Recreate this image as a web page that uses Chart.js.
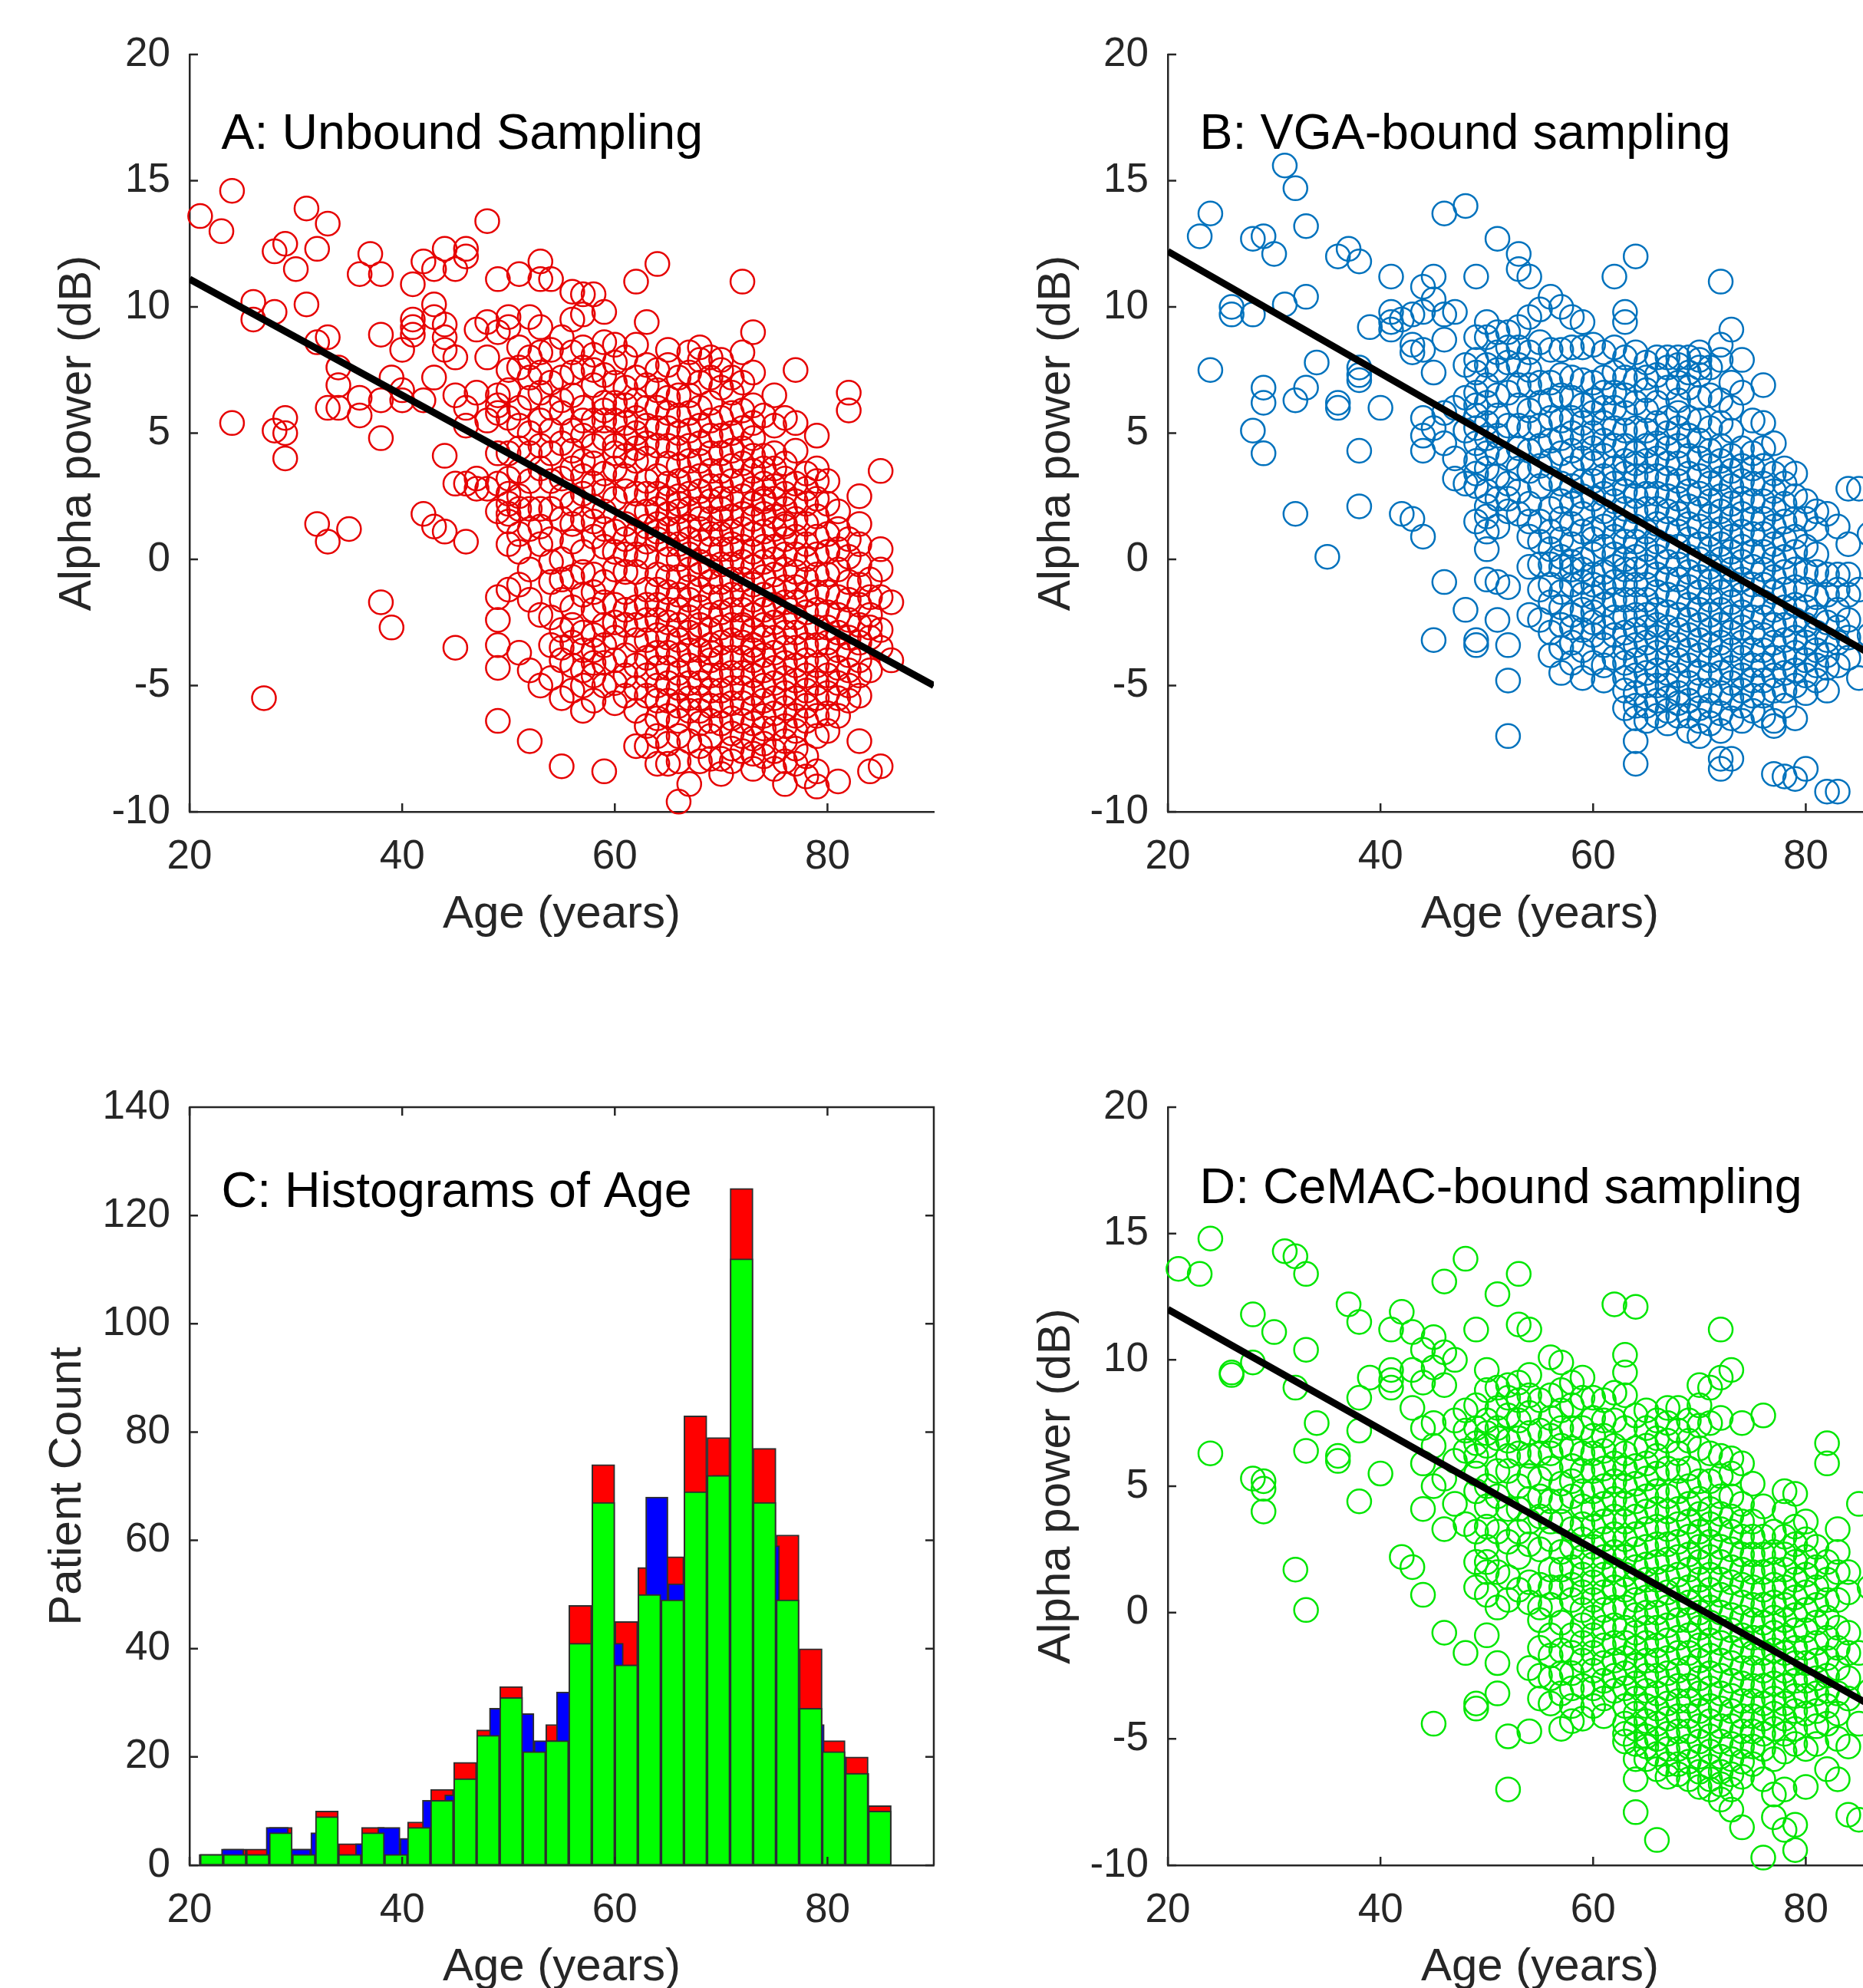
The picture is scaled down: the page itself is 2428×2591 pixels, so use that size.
<!DOCTYPE html>
<html>
<head>
<meta charset="utf-8">
<title>Alpha power vs age</title>
<script src="https://cdn.jsdelivr.net/npm/chart.js@4.4.1/dist/chart.umd.min.js"></script>
<style>
html, body { margin: 0; padding: 0; background: #fff; overflow: hidden; width: 2428px; height: 2591px; }
canvas { position: absolute; }
</style>
</head>
<body>
<canvas id="panelA" width="1250" height="1300" style="left:0px;top:0px"></canvas>
<canvas id="panelB" width="1300" height="1300" style="left:1250px;top:0px"></canvas>
<canvas id="panelC" width="1250" height="1300" style="left:0px;top:1372px"></canvas>
<canvas id="panelD" width="1300" height="1300" style="left:1250px;top:1372px"></canvas>
<script>
// tick labels
const ageTicks = [20, 40, 60, 80];
const alphaTicks = [-10, -5, 0, 5, 10, 15, 20];
const countTicks = [0, 20, 40, 60, 80, 100, 120, 140];

// scatter data: each row is [age, alpha power values at that age...]
const unboundRows = [
  [21, 13.6], [23, 13.0], [24, 14.6, 5.4], [26, 10.2, 9.5], [27, -5.5],
  [28, 12.2, 9.8, 5.1], [29, 12.5, 5.6, 5.0, 4.0], [30, 11.5], [31, 13.9, 10.1],
  [32, 12.3, 8.6, 1.4], [33, 13.3, 8.8, 6.0, 0.7], [34, 7.6, 6.9, 6.0], [35, 1.2],
  [36, 11.3, 6.4, 5.7], [37, 12.1], [38, 11.3, 8.9, 6.3, 4.8, -1.7], [39, 7.2, -2.7],
  [40, 8.3, 6.7, 6.3], [41, 10.9, 9.5, 8.9, 9.2], [42, 11.8, 1.8, 6.3],
  [43, 11.5, 10.1, 9.6, 1.3, 7.2], [44, 12.3, 9.3, 8.3, 4.1, 1.1, 8.8],
  [45, 11.5, 8.0, 3.0, -3.5, 6.5], [46, 12.3, 12.0, 3.0, 0.7, 6.0, 5.3],
  [47, 9.1, 6.6, 3.2, 2.8], [48, 13.4, 9.4, 8.0, 2.8, 5.5],
  [49, 11.1, 9.0, 6.5, 6.1, 5.8, 3.0, -1.5, -3.4, -4.3, -6.4],
  [50, 9.6, 9.2, 6.7, 5.6, 4.2, 2.2, 1.8, -1.2, 1.5, 2.6],
  [51, 11.3, 7.6, 6.0, 5.3, 3.5, 2.5, 2.0, -1.0, -3.7, 0.3],
  [52, 8.0, 7.2, 6.4, 5.0, 3.1, -0.4, -4.4, -7.2, 1.2],
  [53, 11.8, 11.1, 8.2, 7.4, 5.5, 3.6, 2.0, -5.0, 0.6],
  [54, 11.1, 7.0, 6.0, 4.2, 2.0, 0.8, -0.9, -2.3, -4.7],
  [55, 8.8, 7.2, 5.8, 4.6, 2.5, 0.0, -1.6, -2.8, -4.0, -8.2, 1.6],
  [56, 10.6, 8.2, 6.5, 5.1, 4.3, 3.6, 2.2, 0.7, -0.7, -1.9, -3.3, -5.2],
  [57, 10.5, 9.7, 7.6, 6.0, 4.9, 3.9, 2.6, 1.6, 0.3, -1.4, -2.9, -4.4, -5.0],
  [58, 10.5, 8.1, 6.9, 5.5, 4.5, 3.0, 2.1, 0.9, -0.6, -2.0, -3.6, -4.6, -3.0],
  [59, 8.6, 7.3, 6.2, 4.8, 3.4, 1.9, 0.5, -0.9, -2.6, -4.1, -8.4, 5.9],
  [60, 8.5, 7.0, 5.5, 3.6, 2.4, 1.1, -0.4, -1.8, -3.1, -4.9, 4.5],
  [61, 6.8, 5.4, 4.1, 2.7, 1.4, 0.2, -1.3, -2.6, -3.8, -4.6, 6.1],
  [62, 11.0, 7.2, 6.3, 5.0, 3.9, 2.6, 1.0, -0.5, -1.9, -3.2, -5.1, -7.4],
  [63, 9.4, 6.9, 5.3, 4.0, 2.6, 1.3, 0.1, -1.2, -2.4, -3.9, -5.4, -6.6, 3.1],
  [64, 11.7, 7.5, 6.0, 4.5, 3.3, 2.0, 0.8, -0.6, -1.8, -3.0, -4.3, -5.6, -7.0, -8.1, 1.4],
  [65, 7.7, 6.4, 5.2, 3.8, 2.4, 1.2, 0.0, -1.3, -2.5, -3.7, -4.9, -6.2, -7.3, -2.0],
  [66, 7.2, 5.7, 4.4, 3.1, 1.9, 0.6, -0.7, -2.0, -3.2, -4.5, -5.8, -7.0, -9.6, 2.5],
  [67, 8.2, 6.5, 5.1, 3.9, 2.6, 1.3, 0.2, -1.1, -2.3, -3.6, -4.9, -6.0, -8.9, -1.6],
  [68, 8.4, 7.9, 6.0, 4.6, 3.3, 2.0, 0.7, -0.6, -1.9, -3.0, -4.3, -5.5, -6.5, -8.0, 1.2, -2.6],
  [69, 8.0, 6.2, 4.9, 3.5, 2.3, 1.0, -0.3, -1.5, -2.8, -4.0, -5.2, -6.4, -7.9, -3.4],
  [70, 7.9, 7.5, 5.6, 4.2, 2.9, 1.6, 0.4, -0.9, -2.1, -3.3, -4.6, -5.8, -7.9, 2.0, -1.5],
  [71, 6.6, 5.0, 3.7, 2.4, 1.1, -0.2, -1.4, -2.6, -3.9, -5.1, -6.3, -7.5, 0.6],
  [72, 11.0, 8.2, 5.9, 4.4, 3.1, 1.8, 0.5, -0.8, -2.0, -3.3, -4.5, -5.7, -7.0, -2.7],
  [73, 9.0, 6.1, 4.8, 3.5, 2.2, 1.0, -0.3, -1.6, -2.8, -4.0, -5.3, -6.5, -7.7, -3.6],
  [74, 4.1, 3.0, 1.8, 0.5, -0.7, -2.0, -3.1, -4.4, -5.6, -6.7, -7.3, 2.4],
  [75, 6.5, 3.6, 2.4, 1.2, 0.0, -1.2, -2.5, -3.7, -4.9, -6.1, -7.6, -1.9],
  [76, 3.2, 2.0, 0.8, -0.4, -1.7, -2.9, -4.1, -5.3, -6.6, -8.9, 1.4],
  [77, 7.5, 5.4, 3.0, 1.6, 0.2, -1.1, -2.3, -3.5, -4.8, -6.2, -7.5],
  [78, 3.4, 2.2, 0.6, -0.8, -2.1, -3.4, -4.6, -5.8, -8.6],
  [79, 4.9, 3.1, 1.7, 0.2, -1.3, -2.7, -4.2, -5.5, -7.0, -9.0],
  [80, 3.1, 1.0, -0.6, -2.1, -3.3, -4.6, -6.8],
  [81, 1.9, 0.4, -1.5, -2.9, -4.3, -5.5, -8.8],
  [82, 6.6, 5.9, 0.8, -0.9, -2.4, -3.8, -5.0],
  [83, 2.5, 0.6, -1.0, -2.6, -4.0, -7.2],
  [84, -0.8, -2.2, -3.1, -8.4],
  [85, 3.5, -0.4, -1.5, -2.8, -8.2],
  [86, -1.7, -4.0],
  // overlapping circles in the dense cloud
  [49, 4.2, 1.9, -2.4], [50, 7.5, 3.2, 0.6], [51, 8.4, 4.4, 1.0], [52, 9.6, 4.2, 2.0, -1.6],
  [53, 9.2, 6.6, 4.5, 1.3, -2.2], [54, 8.3, 5.1, 3.1, -0.1, -3.4],
  [55, 6.3, 3.2, -0.8, -3.5, -5.5], [56, 7.4, 1.4, -2.6, -4.2, 9.5],
  [57, 8.4, 5.5, 3.3, -0.5, -3.6, -6.0], [58, 7.5, 3.8, 1.5, -1.3, -4.1, -5.6],
  [59, 9.8, 5.5, 2.7, 1.2, -1.7, -3.4, -5.0], [60, 7.8, 6.2, 4.2, 0.3, -2.5, -4.0, -5.7],
  [61, 8.0, 4.8, 3.3, 0.8, -0.5, -2.0, -5.4], [62, 8.5, 5.6, 4.4, 1.8, 0.2, -2.6, -4.2, -6.0],
  [63, 7.7, 6.0, 4.6, 1.9, 0.7, -1.8, -3.2, -4.6, -7.4],
  [64, 6.7, 5.2, 2.6, 1.1, -1.2, -2.4, -3.7, -5.0, -6.3],
  [65, 8.3, 5.8, 4.5, 3.0, 1.8, 0.6, -0.7, -3.1, -4.3, -5.6, -8.1],
  [66, 6.5, 5.0, 3.7, 2.2, 1.2, 0.0, -1.4, -2.6, -3.8, -5.1, -6.4, -8.0],
  [67, 7.4, 5.8, 4.5, 3.2, 2.0, 0.8, -0.4, -2.9, -4.2, -5.5, -7.2],
  [68, 7.0, 5.3, 3.9, 2.7, 1.6, -0.1, -1.2, -3.6, -4.9, -6.0, -7.4],
  [69, 7.2, 5.5, 4.2, 2.9, 1.6, 0.4, -0.9, -2.2, -3.7, -4.6, -5.8, -7.0],
  [70, 6.8, 4.9, 3.5, 2.4, 1.0, -0.2, -1.5, -2.7, -3.9, -5.2, -6.5, -8.5],
  [71, 7.2, 5.8, 4.3, 3.1, 1.7, 0.4, -0.8, -2.0, -3.2, -4.5, -5.7, -6.9, -8.0],
  [72, 7.0, 5.2, 3.8, 2.5, 1.2, -0.1, -1.4, -2.6, -3.9, -5.1, -6.4, -7.6],
  [73, 7.4, 5.4, 4.1, 2.8, 1.6, 0.3, -1.0, -2.2, -3.4, -4.6, -5.9, -7.1, -8.3],
  [74, 5.7, 3.6, 2.3, 1.1, -0.1, -1.4, -2.6, -3.8, -5.0, -6.2, -7.8],
  [75, 5.3, 4.2, 2.9, 1.7, 0.5, -0.6, -1.8, -3.1, -4.3, -5.5, -6.7, -8.3],
  [76, 5.6, 3.8, 2.6, 1.3, 0.2, -1.1, -2.3, -3.5, -4.7, -5.9, -7.2, -8.0],
  [77, 4.3, 2.3, 0.9, -0.5, -1.7, -2.9, -4.2, -5.5, -6.8, -8.1],
  [78, 2.8, 1.4, 0.0, -1.4, -2.7, -4.0, -5.2, -6.4, -7.8],
  [79, 3.6, 2.4, 0.9, -0.6, -2.0, -3.4, -4.9, -6.2, -8.4],
  [80, 2.2, 0.3, -1.3, -2.7, -4.0, -5.3, -6.1], [81, 1.2, -0.4, -2.2, -3.6, -4.9, -6.2],
  [82, 0.1, -1.6, -3.1, -4.4, -5.6], [83, 1.4, -0.2, -1.8, -3.3, -4.6, -5.4],
  [84, -1.5, -2.7, -4.4], [85, 0.4, -3.5]
];

const vgaRows = [
  [23, 12.8], [24, 13.7, 7.5], [26, 10.0, 9.7], [28, 12.7, 9.7, 5.1],
  [29, 12.8, 6.8, 6.2, 4.2], [30, 12.1], [31, 15.6, 10.1], [32, 14.7, 6.3, 1.8],
  [33, 13.2, 10.4, 6.8], [34, 7.8], [35, 0.1], [36, 12.0, 6.2, 6.0], [37, 12.3],
  [38, 11.8, 7.6, 7.1, 7.3, 4.3, 2.1], [39, 9.2], [40, 6.0], [41, 11.2, 9.8, 9.4, 9.1],
  [42, 1.8, 9.5], [43, 9.7, 8.5, 8.2, 1.6], [44, 10.8, 9.8, 8.3, 5.6, 4.9, 4.3, 0.9],
  [45, 11.2, 10.3, 7.4, 5.2, -3.2], [46, 13.7, 9.7, 8.7, 5.8, 4.6, -0.9],
  [47, 9.8, 6.0, 4.0, 3.2], [48, 14.0, 7.7, 6.4, 5.1, 3.0, -2.0],
  [49, 11.2, 8.8, 7.4, 6.6, 6.1, 5.7, 4.6, 3.9, 2.9, -3.4, -3.2],
  [50, 9.4, 8.8, 7.7, 6.9, 5.4, 4.2, 3.6, 2.1, 1.7, 1.1, -0.8],
  [51, 12.7, 9.0, 7.5, 6.5, 4.9, 3.3, 2.4, -0.9, -2.4],
  [52, 9.0, 7.8, 6.6, 4.0, 3.0, 1.9, -3.4, -4.8, -7.0],
  [53, 12.1, 11.5, 9.2, 7.7, 6.1, 5.3, 2.7, 1.8],
  [54, 11.2, 9.6, 8.2, 6.9, 5.9, 4.3, 2.2, 0.9, -0.3, -2.2],
  [55, 9.9, 8.6, 7.0, 5.3, 3.7, 2.9, 1.5, -0.2, -2.4],
  [56, 10.4, 8.3, 7.0, 5.6, 4.7, 3.2, 2.0, 1.1, -0.2, -1.7, -2.9, -3.8],
  [57, 10.0, 8.3, 6.5, 5.5, 4.2, 3.0, 1.6, 0.8, -0.3, -1.3, -2.6, -4.5],
  [58, 9.6, 7.2, 6.4, 5.0, 3.6, 2.2, 0.6, -0.1, -0.4, -1.0, -3.3, -4.1],
  [59, 9.4, 8.4, 6.1, 4.8, 4.0, 3.1, 1.8, 0.0, -0.9, -2.0, -3.6],
  [60, 8.5, 7.0, 5.8, 4.4, 3.1, 1.2, 0.2, -1.5, -2.1, -3.0],
  [61, 8.2, 6.6, 5.4, 4.1, 2.6, 1.3, -0.5, -1.8, -2.7, -4.8],
  [62, 11.2, 7.4, 6.6, 5.2, 3.6, 2.3, 0.9, -0.3, -1.6, -3.0],
  [63, 9.8, 9.4, 7.2, 5.8, 4.5, 3.4, 2.0, 0.7, -0.4, -1.6, -2.9, -4.1, -5.2],
  [64, 12.0, 8.2, 6.2, 4.2, 3.8, 2.5, 1.3, 0.1, -1.0, -2.2, -3.4, -4.6, -5.3, -6.3, -8.1],
  [65, 7.8, 6.7, 5.1, 3.9, 2.6, 1.1, -0.3, -1.6, -2.7, -3.9, -5.0, -5.8],
  [66, 8.0, 6.2, 4.6, 3.3, 2.0, 0.7, -0.6, -2.0, -3.1, -4.4, -5.6],
  [67, 7.6, 5.6, 4.4, 3.2, 1.9, 0.5, -0.8, -2.1, -3.3, -4.5, -5.5, -6.0],
  [68, 7.7, 6.3, 5.2, 3.8, 2.4, 1.1, -0.2, -1.5, -2.8, -4.0, -5.3, -5.7],
  [69, 8.0, 6.8, 4.9, 3.4, 2.1, 0.8, -0.5, -1.8, -3.0, -4.2, -5.6, -6.8],
  [70, 8.2, 7.9, 7.6, 7.3, 6.4, 4.7, 3.3, 2.0, 0.6, -0.7, -2.0, -3.2, -4.5, -5.9, -7.0],
  [71, 6.5, 4.3, 3.0, 1.7, 0.4, -0.9, -2.2, -3.4, -4.6, -5.8],
  [72, 11.0, 7.9, 6.3, 4.5, 3.2, 1.9, 0.6, -0.7, -2.0, -3.3, -4.5, -6.1, -8.3],
  [73, 9.1, 6.0, 4.1, 2.9, 1.6, 0.3, -1.0, -2.3, -3.6, -4.9, -7.9],
  [74, 7.9, 4.4, 3.1, 1.8, 0.5, -0.8, -2.1, -3.3, -4.6, -5.8],
  [75, 4.2, 3.0, 1.6, 0.3, -1.0, -2.3, -3.6, -4.8, -6.0],
  [76, 6.9, 5.4, 3.7, 2.3, 1.0, -0.4, -1.7, -3.0, -4.2, -5.4],
  [77, 3.4, 2.0, 0.6, -0.7, -2.0, -3.3, -4.6, -6.4, -8.5],
  [78, 3.0, 1.5, 0.1, -1.2, -2.6, -3.9, -5.2, -8.6],
  [79, 2.5, 0.9, -0.4, -1.8, -3.1, -4.4, -6.3, -8.7],
  [80, 1.6, -0.5, -1.9, -3.3, -4.6, -8.3],
  [81, 1.2, -0.5, -2.3, -3.6, -4.8],
  [82, 1.8, -0.6, -2.5, -4.3, -9.2],
  [83, -0.6, -2.0, -3.3, -9.2],
  [84, 2.8, -0.6, -2.4, -3.9],
  [85, 2.8, -4.7, -1.2],
  [86, 1.0, -3.0],
  // overlapping circles in the dense cloud
  [49, 7.9, 5.2, 3.4, 1.5], [50, 6.2, 4.8, 2.7, 0.4], [51, 8.2, 5.7, 4.2, 1.3],
  [52, 8.4, 5.3, 2.4, -1.1], [53, 8.4, 6.9, 4.4, 3.6], [54, 7.5, 5.2, 3.5, 1.5],
  [55, 6.2, 4.5, 0.7, -1.2], [56, 6.3, 3.9, 0.4, -1.0], [57, 7.3, 4.8, 2.3, 0.1, -1.9, -3.5],
  [58, 8.4, 5.6, 4.3, 2.9, 1.4, -2.2, -2.7], [59, 7.1, 5.4, 2.5, 1.1, -0.4, -1.4, -2.8, -4.7],
  [60, 6.3, 5.0, 3.8, 2.4, 0.8, -0.6, -1.0, -2.5, -4.1],
  [61, 7.2, 6.0, 4.7, 3.3, 1.9, 0.5, -1.1, -3.4, -4.2],
  [62, 8.4, 6.0, 4.5, 3.0, 1.6, 0.2, -0.9, -2.3, -3.9],
  [63, 8.0, 6.5, 5.1, 3.9, 2.7, 1.3, 0.0, -1.0, -2.3, -3.5, -4.7, -5.9],
  [64, 7.1, 5.2, 3.3, 1.9, 0.7, -0.4, -1.6, -2.8, -4.0, -5.8, -7.2],
  [65, 7.2, 5.9, 4.5, 3.3, 2.0, 0.4, -1.0, -2.2, -3.3, -4.5, -6.4],
  [66, 7.3, 5.4, 4.0, 2.6, 1.4, 0.1, -1.3, -2.6, -3.7, -5.0, -6.2],
  [67, 8.0, 6.8, 5.0, 3.8, 2.5, 1.2, -0.1, -1.4, -2.7, -3.9, -5.0, -6.5],
  [68, 8.0, 7.0, 5.8, 4.5, 3.1, 1.8, 0.5, -0.8, -2.2, -3.4, -4.6, -6.2],
  [69, 7.4, 5.6, 4.1, 2.7, 1.4, 0.1, -1.1, -2.4, -3.6, -4.9, -6.2],
  [70, 5.5, 4.0, 2.6, 1.3, 0.0, -1.3, -2.6, -3.8, -5.2, -6.4],
  [71, 7.6, 5.2, 3.7, 2.3, 1.0, -0.3, -1.6, -2.8, -4.0, -5.2, -6.5],
  [72, 8.5, 5.4, 3.9, 2.5, 1.2, 0.0, -1.3, -2.6, -3.9, -5.3, -6.8, -7.9],
  [73, 7.0, 5.1, 3.5, 2.2, 0.9, -0.4, -1.7, -2.9, -4.3, -5.5, -6.3],
  [74, 6.6, 3.7, 2.4, 1.1, -0.1, -1.4, -2.7, -3.9, -5.2, -6.4],
  [75, 5.5, 3.6, 2.3, 1.0, -0.3, -1.6, -2.9, -4.2, -5.4],
  [76, 4.4, 3.0, 1.6, 0.3, -1.0, -2.3, -3.6, -4.8, -6.2],
  [77, 4.6, 2.7, 1.3, 0.0, -1.3, -2.6, -3.9, -5.2, -6.6],
  [78, 3.6, 2.2, 0.8, -0.5, -1.9, -3.2, -4.5, -5.8],
  [79, 3.4, 1.6, 0.3, -1.1, -2.4, -3.7, -5.0], [80, 2.3, 0.5, -1.2, -2.6, -4.0, -5.3],
  [81, 1.9, 0.2, -1.5, -2.9, -4.2], [82, -1.4, -3.2, -3.8, -5.2],
  [83, 1.3, -1.2, -2.7, -4.2], [84, 0.6, -1.4, -3.1]
];

const cemacRows = [
  [21, 13.6], [23, 13.4], [24, 14.8, 6.3], [26, 9.5, 9.4], [28, 11.8, 9.9, 5.3],
  [29, 5.2, 4.9, 4.0], [30, 11.1], [31, 14.3], [32, 14.1, 8.9, 1.7],
  [33, 13.4, 10.4, 6.4, 0.1], [34, 7.5], [36, 6.2, 6.0], [37, 12.2],
  [38, 11.5, 8.5, 7.2, 4.4], [39, 9.3], [40, 5.5], [41, 11.2, 9.6, 8.9, 9.2],
  [42, 11.9, 2.2], [43, 11.1, 9.6, 8.1, 1.8], [44, 10.4, 9.1, 7.3, 5.9, 4.1, 0.7],
  [45, 10.9, 9.7, 7.5, 6.6, 5.0, -4.4], [46, 13.1, 10.3, 9.0, 5.3, 3.3, -0.8],
  [47, 10.0, 7.6, 6.0, 4.3], [48, 14.0, 8.0, 7.2, 6.4, 3.5, -1.6],
  [49, 11.2, 8.2, 7.3, 6.7, 6.2, 4.8, 2.0, -3.8, -3.6],
  [50, 9.6, 8.8, 7.6, 6.6, 5.0, 3.4, 2.6, 2.0, 1.6, -0.9],
  [51, 12.6, 8.9, 7.3, 6.9, 3.2, 0.2, -3.2, -2.0],
  [52, 9.0, 7.8, 6.8, 5.6, 4.1, 1.4, -4.9, -7.0],
  [53, 13.4, 11.4, 9.1, 7.6, 6.3, 5.0, 3.2, 0.9],
  [54, 11.2, 9.4, 7.9, 6.2, 4.5, 2.7, 1.2, -4.7, -2.2],
  [55, 8.4, 7.2, 5.3, 3.8, 2.5, 1.1, -0.3, -3.4, -2.5],
  [56, 10.1, 8.6, 7.0, 5.7, 4.4, 2.9, 1.7, 0.3, -0.9, -2.6, -3.6],
  [57, 9.9, 8.0, 6.6, 5.1, 3.6, 2.4, 1.0, -0.4, -1.5, -3.2, -4.6],
  [58, 9.1, 7.3, 5.8, 4.6, 3.3, 1.8, 0.5, -0.9, -2.4, -3.7, -4.3],
  [59, 9.3, 8.5, 6.3, 4.8, 3.5, 2.2, 0.8, -0.5, -1.9, -2.9],
  [60, 8.5, 7.0, 5.6, 4.1, 2.6, 1.2, -0.2, -1.6, -3.0],
  [61, 7.6, 6.4, 5.0, 3.6, 2.2, 0.8, -0.6, -2.0, -3.4],
  [62, 12.2, 8.7, 6.6, 5.2, 3.8, 2.4, 1.0, -0.5, -1.9, -3.1],
  [63, 10.2, 9.5, 8.6, 6.3, 5.0, 3.6, 2.2, 0.9, -0.6, -1.8, -3.0, -4.4, -5.1],
  [64, 12.1, 6.5, 5.1, 3.8, 2.5, 1.2, -0.1, -1.4, -2.8, -4.0, -5.2, -6.6, -7.9],
  [65, 8.0, 6.6, 5.3, 4.0, 2.6, 1.3, 0.0, -1.2, -2.5, -3.7, -4.9, -5.8],
  [66, 7.6, 6.2, 4.8, 3.4, 2.0, 0.7, -0.6, -1.9, -3.2, -4.4, -5.6, -9.0],
  [67, 8.1, 6.8, 4.6, 3.3, 2.1, 0.8, -0.5, -1.8, -3.0, -4.2, -5.4, -6.5],
  [68, 8.1, 6.3, 4.8, 3.5, 2.2, 0.9, -0.3, -1.6, -2.9, -4.1, -5.4, -6.4],
  [69, 7.6, 5.7, 4.3, 3.0, 1.7, 0.4, -0.9, -2.2, -3.5, -4.7, -5.9],
  [70, 9.0, 7.4, 5.2, 3.9, 2.6, 1.3, 0.0, -1.3, -2.6, -3.9, -5.1, -6.3],
  [71, 8.9, 6.3, 4.1, 2.8, 1.5, 0.2, -1.1, -2.4, -3.7, -4.9, -6.1, -7.0],
  [72, 11.2, 9.3, 6.2, 4.6, 3.3, 2.0, 0.7, -0.6, -1.9, -3.2, -4.5, -5.7, -6.8],
  [73, 9.6, 5.5, 3.8, 2.5, 1.2, -0.1, -1.4, -2.7, -3.9, -5.2, -6.4, -7.8],
  [74, 7.5, 4.3, 3.0, 1.7, 0.4, -0.9, -2.2, -3.5, -4.7, -5.9, -8.5],
  [75, 3.6, 2.3, 1.0, -0.3, -1.6, -2.9, -4.1, -5.3],
  [76, 7.8, 3.0, 1.6, 0.3, -1.0, -2.3, -3.6, -4.8, -9.7],
  [77, 2.4, 1.1, -0.2, -1.5, -2.8, -4.0, -8.1],
  [78, 4.8, 3.0, 1.7, 0.3, -1.0, -2.3, -3.6, -4.8, -7.0],
  [79, 4.7, 3.4, 2.0, 0.6, -0.7, -2.0, -3.3, -4.6, -8.4, -9.4],
  [80, 3.6, 2.2, 0.8, -0.7, -2.0, -3.3, -6.9],
  [81, 2.6, 1.0, -0.4, -1.9, -3.2, -4.5],
  [82, 6.7, 5.9, 2.0, 0.5, -1.0, -2.5, -3.7, -6.2],
  [83, 3.3, 1.6, -0.6, -2.2, -4.0, -6.6],
  [84, 0.8, -0.8, -2.6, -8.0],
  [85, 4.3, -1.6, -4.4, -8.2],
  [86, 1.0, -3.1],
  // overlapping circles in the dense cloud
  [49, 5.5, 3.2, 1.0], [50, 7.1, 4.2, 0.7], [51, 8.1, 5.6, 4.6, 1.6], [52, 8.5, 6.2, 2.8, 0.5],
  [53, 8.4, 6.9, 4.1, 2.2], [54, 8.6, 7.1, 5.4, 3.6, 0.4],
  [55, 6.3, 4.6, 0.2, -1.4], [56, 7.7, 6.3, 3.6, 1.0, -1.7], [57, 8.8, 7.3, 4.4, 1.7, -2.4],
  [58, 8.2, 6.5, 5.2, 2.6, 1.1, -1.6, -3.0], [59, 7.3, 5.6, 4.2, 2.9, 1.5, 0.1, -1.2, -4.2],
  [60, 7.7, 6.3, 4.8, 3.4, 1.9, 0.5, -0.9, -2.3, -3.7],
  [61, 8.4, 7.0, 5.7, 4.3, 2.9, 1.5, 0.1, -1.3, -2.7, -4.1],
  [62, 7.6, 5.9, 4.5, 3.1, 1.7, 0.2, -1.2, -2.5],
  [63, 7.3, 5.7, 4.3, 2.9, 1.5, 0.2, -1.2, -2.4, -3.7, -4.8],
  [64, 7.8, 5.8, 4.4, 3.1, 1.8, 0.5, -0.8, -2.1, -3.4, -4.6, -5.8],
  [65, 7.3, 5.9, 4.6, 3.3, 1.9, 0.6, -0.6, -1.9, -3.1, -4.3, -5.3],
  [66, 6.9, 5.5, 4.1, 2.7, 1.3, 0.0, -1.3, -2.5, -3.8, -5.0, -6.2],
  [67, 7.5, 5.7, 4.0, 2.7, 1.4, 0.2, -1.1, -2.4, -3.6, -4.8, -6.0],
  [68, 7.2, 5.6, 4.1, 2.8, 1.5, 0.3, -1.0, -2.3, -3.5, -4.7, -6.0],
  [69, 6.8, 5.0, 3.6, 2.3, 1.0, -0.3, -1.6, -2.9, -4.1, -5.3, -6.6],
  [70, 8.2, 6.5, 4.5, 3.2, 2.0, 0.6, -0.6, -1.9, -3.2, -4.5, -5.7, -6.9],
  [71, 7.5, 5.2, 3.5, 2.2, 0.9, -0.4, -1.7, -3.0, -4.3, -5.5, -6.6],
  [72, 7.7, 5.4, 3.9, 2.6, 1.3, 0.0, -1.2, -2.5, -3.8, -5.1, -6.3, -7.4],
  [73, 6.1, 4.6, 3.2, 1.8, 0.6, -0.7, -2.0, -3.3, -4.5, -5.8, -7.0],
  [74, 5.9, 3.6, 2.3, 1.1, -0.2, -1.5, -2.8, -4.1, -5.3, -6.5],
  [75, 5.1, 3.0, 1.6, 0.3, -1.0, -2.2, -3.5, -4.7, -6.0],
  [76, 4.2, 2.3, 0.9, -0.4, -1.6, -2.9, -4.2, -5.4, -6.6],
  [77, 3.2, 1.7, 0.4, -0.8, -2.1, -3.4, -4.6, -5.8, -7.2],
  [78, 4.0, 2.3, 1.0, -0.3, -1.6, -2.9, -4.2, -5.5, -8.6],
  [79, 2.7, 1.3, -0.1, -1.4, -2.7, -3.9, -5.2], [80, 2.9, 1.5, 0.1, -1.4, -2.7, -4.0, -5.4],
  [81, 1.8, 0.3, -1.2, -2.6, -3.9, -5.2], [82, 1.3, -0.2, -1.8, -3.1, -4.4],
  [83, 2.4, 0.5, -1.4, -3.2, -5.0], [84, 1.6, -1.6, -3.4, -5.3]
];

// regression lines, [age, alpha]
const fitUnbound = [[20, 11.1], [90, -5.0]];
const fitVga = [[20, 12.2], [90, -4.7]];
const fitCemac = [[20, 12.0], [90, -4.6]];

// histogram bins (centres) and counts
const ageBins = [22.08, 24.25, 26.42, 28.58, 30.75, 32.92, 35.08, 37.25, 39.42, 41.58,
  43.75, 45.92, 48.08, 50.25, 52.42, 54.58, 56.75, 58.92, 61.08, 63.25,
  65.42, 67.58, 69.75, 71.92, 74.08, 76.25, 78.42, 80.58, 82.75, 84.92];
const vgaAgeBins = [21.95, 24.05, 26.15, 28.25, 30.35, 32.45, 34.55, 36.65, 38.75, 40.85,
  42.95, 45.05, 47.15, 49.25, 51.35, 53.45, 55.55, 57.65, 59.75, 61.85,
  63.95, 66.05, 68.15, 70.25, 72.35, 74.45, 76.55, 78.65, 80.75, 82.85, 84.95];
const unboundCounts = [2, 3, 3, 7, 3, 10, 4, 7, 4, 8, 14, 19, 25, 33, 22, 26, 48, 74, 45, 55,
  57, 83, 79, 125, 77, 61, 40, 23, 20, 11];
const vgaCounts = [2, 3, 2, 7, 3, 6, 2, 4, 7, 5, 12, 13, 16, 29, 28, 23, 32, 40, 41, 37,
  68, 52, 68, 72, 66, 59, 29, 26, 20, 17, 10];
const cemacCounts = [2, 2, 2, 6, 2, 9, 2, 6, 2, 7, 12, 16, 24, 31, 21, 23, 41, 67, 37, 50,
  49, 69, 72, 112, 67, 49, 29, 21, 17, 10];

Chart.defaults.font.family = '"Liberation Sans", Arial, Helvetica, sans-serif';
Chart.defaults.color = '#262626';
const ink = '#262626';

function rowsToPoints(rows) {
  const pts = [];
  rows.forEach(r => { for (let i = 1; i < r.length; i++) pts.push({ x: r[0], y: r[i] }); });
  return pts;
}

function axis(o) {
  const left = o.position === 'left';
  return {
    type: 'linear',
    position: o.position,
    min: o.min,
    max: o.max,
    offset: false,
    grid: { display: false, drawTicks: false, offset: false },
    border: { display: true, color: ink, width: 2.5 },
    ticks: { font: { size: 53 }, color: ink, padding: left ? 25 : 28, maxRotation: 0, autoSkip: false },
    afterBuildTicks: s => { s.ticks = o.ticks.map(v => ({ value: v })); },
    afterFit: s => { if (left) s.width = o.size; else s.height = o.size; },
    title: {
      display: true, text: o.title, color: ink, font: { size: 60 },
      padding: left ? { top: o.titlePad, bottom: 0 } : { top: 0, bottom: o.titlePad }
    }
  };
}

// inward tick marks, box and panel label
function decor(label, at, yTicks, boxed) {
  return {
    id: 'decor',
    afterDraw(chart) {
      const ctx = chart.ctx, a = chart.chartArea;
      const xs = chart.scales.x, ys = chart.scales.y;
      ctx.save();
      ctx.strokeStyle = ink;
      ctx.lineWidth = 2.5;
      ctx.beginPath();
      ageTicks.forEach(v => {
        const px = xs.getPixelForValue(v);
        ctx.moveTo(px, a.bottom); ctx.lineTo(px, a.bottom - 11);
        if (boxed) { ctx.moveTo(px, a.top); ctx.lineTo(px, a.top + 11); }
      });
      yTicks.forEach(v => {
        const py = ys.getPixelForValue(v);
        ctx.moveTo(a.left, py); ctx.lineTo(a.left + 11, py);
        if (boxed) { ctx.moveTo(a.right, py); ctx.lineTo(a.right - 11, py); }
      });
      if (boxed) {
        ctx.moveTo(a.left, a.top); ctx.lineTo(a.right, a.top); ctx.lineTo(a.right, a.bottom);
      }
      ctx.stroke();
      ctx.fillStyle = '#000';
      ctx.font = '64.5px "Liberation Sans", Arial, sans-serif';
      ctx.textAlign = 'left';
      ctx.textBaseline = 'middle';
      ctx.fillText(label, xs.getPixelForValue(at[0]), ys.getPixelForValue(at[1]));
      ctx.restore();
    }
  };
}

function scatterPanel(id, rows, fit, color, label, box) {
  new Chart(document.getElementById(id), {
    type: 'scatter',
    data: {
      datasets: [
        {
          data: fit.map(p => ({ x: p[0], y: p[1] })),
          showLine: true, borderColor: '#000', borderWidth: 9, pointRadius: 0
        },
        {
          data: rowsToPoints(rows),
          pointRadius: 15.5, borderWidth: 2.5, borderColor: color,
          backgroundColor: 'rgba(255,255,255,0)', clip: false
        }
      ]
    },
    options: {
      responsive: false, animation: false, devicePixelRatio: 1, events: [],
      layout: { padding: { left: 0, top: box.top, right: box.right, bottom: 0 } },
      plugins: { legend: { display: false }, tooltip: { enabled: false } },
      scales: {
        x: axis({ position: 'bottom', min: 20, max: 90, ticks: ageTicks, size: box.xh, title: 'Age (years)', titlePad: 72 }),
        y: axis({ position: 'left', min: -10, max: 20, ticks: alphaTicks, size: box.yw, title: 'Alpha power (dB)', titlePad: box.tp })
      }
    },
    plugins: [decor(label, [23, box.labelY], alphaTicks, false)]
  });
}

scatterPanel('panelA', unboundRows, fitUnbound, '#e60000', 'A: Unbound Sampling',
  { top: 71, right: 33, xh: 242, yw: 247, tp: 65, labelY: 16.8 });
scatterPanel('panelB', vgaRows, fitVga, '#0072bd', 'B: VGA-bound sampling',
  { top: 71, right: 58, xh: 242, yw: 272, tp: 91, labelY: 16.8 });
scatterPanel('panelD', cemacRows, fitCemac, '#00e600', 'D: CeMAC-bound sampling',
  { top: 71, right: 58, xh: 241, yw: 272, tp: 91, labelY: 16.75 });

const barStyle = { borderColor: '#2e2e2e', borderWidth: 2, borderSkipped: false,
  barPercentage: 1, categoryPercentage: 1, grouped: false };

new Chart(document.getElementById('panelC'), {
  type: 'bar',
  data: {
    datasets: [
      Object.assign({ data: ageBins.map((b, i) => ({ x: b, y: cemacCounts[i] })), backgroundColor: '#00ff00', xAxisID: 'x' }, barStyle),
      Object.assign({ data: vgaAgeBins.map((b, i) => ({ x: b, y: vgaCounts[i] })), backgroundColor: '#0000ff', xAxisID: 'xb' }, barStyle),
      Object.assign({ data: ageBins.map((b, i) => ({ x: b, y: unboundCounts[i] })), backgroundColor: '#ff0000', xAxisID: 'x' }, barStyle)
    ]
  },
  options: {
    responsive: false, animation: false, devicePixelRatio: 1, events: [],
    layout: { padding: { left: 0, top: 71, right: 33, bottom: 0 } },
    plugins: { legend: { display: false }, tooltip: { enabled: false } },
    scales: {
      x: axis({ position: 'bottom', min: 20, max: 90, ticks: ageTicks, size: 241, title: 'Age (years)', titlePad: 72 }),
      xb: { type: 'linear', position: 'bottom', display: false, min: 20, max: 90, offset: false },
      y: axis({ position: 'left', min: 0, max: 140, ticks: countTicks, size: 247, title: 'Patient Count', titlePad: 52 })
    }
  },
  plugins: [decor('C: Histograms of Age', [23, 124.1], countTicks, true)]
});
</script>
</body>
</html>
